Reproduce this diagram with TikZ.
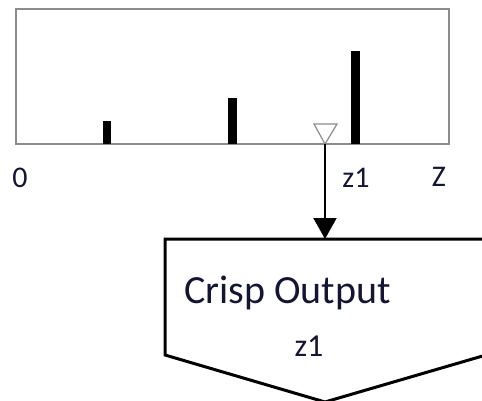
\documentclass[tikz,border=0pt]{standalone}
\usepackage{fontspec}
\setmainfont{Carlito}
\usetikzlibrary{arrows.meta}
\definecolor{framegray}{rgb}{0.55,0.55,0.55}
\definecolor{ink}{rgb}{0.08,0.08,0.2}

\begin{document}
\begin{tikzpicture}[x=1pt, y=-1pt, >={Triangle[length=21pt,width=23pt]}]
    \useasboundingbox (0,0) rectangle (482,401);

    % Histogram frame
    \draw[framegray, line width=1.5pt] (16,9) rectangle (449,144);

    % Bars
    \foreach \xl/\xr/\h in {103/111/121, 228/237/98, 351/360/51}
        \fill[black] (\xl,144) rectangle (\xr,\h);

    % Marker on the axis
    \coordinate (tip) at (325,144);
    \draw[framegray, line width=1.2pt, fill=white] (314,124) -- (337,124) -- (tip) -- cycle;

    % Axis labels
    \node[ink, font=\fontsize{30}{32}\selectfont] (zero) at (20,178) {0};
    \node[ink, font=\fontsize{30}{32}\selectfont] (zone) at (356,178) {z1};
    \node[ink, font=\fontsize{30}{32}\selectfont] (zend) at (439,177) {Z};

    % Output block
    \coordinate (top) at (325,239);
    \draw[line width=3pt, line join=miter] (165,239) -- (486,239) -- (486,355) -- (325,402) -- (165,355) -- cycle;
    \node[ink, anchor=west, inner sep=0pt, font=\fontsize{40}{42}\selectfont] (crisp) at (184,293) {Crisp Output};
    \node[ink, font=\fontsize{32}{34}\selectfont] (zout) at (309,346) {z1};

    % Arrow to the output
    \draw[->, line width=2pt] (tip) -- (top);
\end{tikzpicture}
\end{document}
